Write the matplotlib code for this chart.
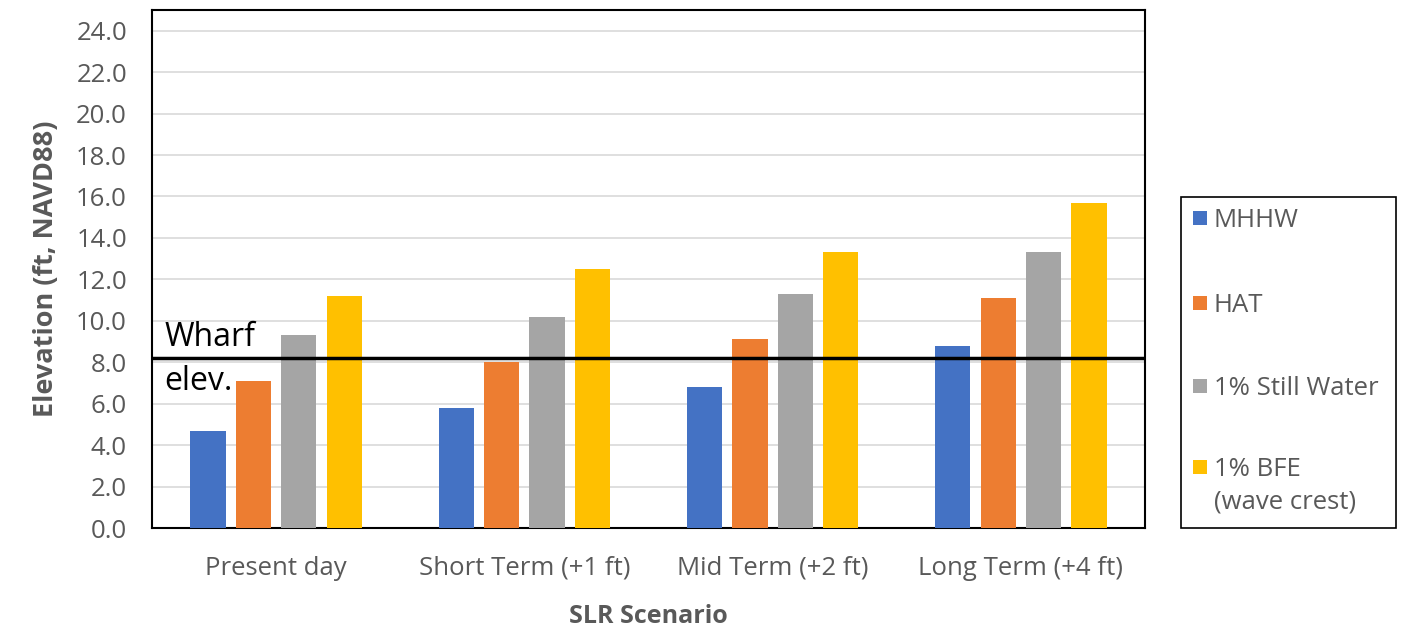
import numpy as np
import matplotlib
matplotlib.use("Agg")
import matplotlib.pyplot as plt
from matplotlib.patches import Rectangle

scenarios = ["Present day", "Short Term (+1 ft)", "Mid Term (+2 ft)", "Long Term (+4 ft)"]
series = ["MHHW", "HAT", "1% Still Water", "1% BFE\n(wave crest)"]
mhhw = [4.7, 5.8, 6.8, 8.8]
hat = [7.1, 8.0, 9.1, 11.1]
still_water = [9.3, 10.2, 11.3, 13.3]
bfe = [11.2, 12.5, 13.3, 15.7]
wharf_elev = 8.2

colors = ["#4472C4", "#ED7D31", "#A5A5A5", "#FFC000"]
grey = "#595959"

plt.rcParams['font.family'] = ['Open Sans', 'DejaVu Sans']

W, H = 1412, 630
fig = plt.figure(figsize=(W/100, H/100), dpi=100)
ax = fig.add_axes([152/W, 1-528/H, (1145-152)/W, (528-10)/H])

x = np.arange(len(scenarios))
w = 0.142
step = 0.183
for i, vals in enumerate([mhhw, hat, still_water, bfe]):
    ax.bar(x + (i - 1.5)*step, vals, width=w, color=colors[i], zorder=3, label=series[i])

ax.axhline(wharf_elev, color="black", lw=2.5, zorder=4)
ax.text(-0.45, wharf_elev + 0.2, "Wharf", fontsize=23, color="black", va="bottom", ha="left", zorder=5)
ax.text(-0.45, wharf_elev - 0.35, "elev.", fontsize=23, color="black", va="top", ha="left", zorder=5)

ax.set_xlim(-0.5, 3.5)
ax.set_ylim(0, 25)
ticks = np.arange(0, 25, 2)
ax.set_yticks(ticks)
ax.set_yticklabels([f"{v:.1f}" for v in ticks])
ax.yaxis.grid(True, color="#d9d9d9", lw=1.2, zorder=0)
ax.set_xticks(x)
ax.set_xticklabels(scenarios)
ax.tick_params(axis="both", length=0, labelsize=18.5, colors=grey)
ax.tick_params(axis="y", pad=18)
ax.tick_params(axis="x", pad=20)
for s in ax.spines.values():
    s.set_color("black")
    s.set_linewidth(1.5)

ax.set_ylabel("Elevation (ft, NAVD88)", fontsize=19.5, fontweight="bold", color=grey, labelpad=12)
ax.set_xlabel("SLR Scenario", fontsize=18, fontweight="bold", color=grey, labelpad=17)

# legend box drawn by hand so the square sits on the first line of each label
fig.patches.append(Rectangle((1181/W, 1-528/H), 215/W, 331/H, transform=fig.transFigure,
                             fill=False, edgecolor="black", lw=1.2))
entry_y = [218, 303, 386, 467]
for lab, col, yy in zip(series, colors, entry_y):
    fig.patches.append(Rectangle((1193/W, 1-(yy+7)/H), 14/W, 14/H, transform=fig.transFigure,
                                 facecolor=col, edgecolor="none"))
    fig.text(1214/W, 1-(yy-10)/H, lab, fontsize=18.5, color=grey, ha="left", va="top",
             linespacing=1.4)

fig.savefig("out.png", dpi=100)
